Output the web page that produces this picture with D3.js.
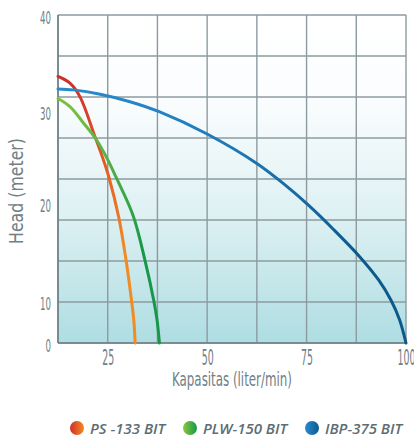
<!DOCTYPE html>
<html>
<head>
<meta charset="utf-8">
<script src="https://cdn.jsdelivr.net/npm/d3@7"></script>
<style>
  html, body { margin: 0; padding: 0; background: #ffffff; }
  svg { display: block; }
</style>
</head>
<body>
<svg id="chart" width="414" height="439"></svg>
<script>
// ---- data ----
const seriesNames = ["PS -133 BIT", "PLW-150 BIT", "IBP-375 BIT"];
const ps133 = [
  [12.5, 33.6], [15.5, 32.9], [18.0, 31.5], [21.8, 27.2], [23.9, 24.7],
  [25.3, 22.8], [27.8, 18.5], [29.6, 14.2], [31.0, 10.0], [31.55, 5.5], [31.9, 0]
];
const plw150 = [
  [12.5, 31.3], [15.5, 30.45], [18.9, 28.7], [22.2, 26.85], [24.9, 24.8],
  [27.1, 22.8], [31.4, 18.7], [34.4, 14.1], [36.6, 10.0], [37.4, 5.5], [38.0, 0]
];
const ibp375 = [
  [12.5, 32.3], [16.3, 32.2], [23.1, 31.75], [30.6, 30.97], [38.1, 29.9],
  [50, 27.5], [62.5, 24.3], [69.2, 22.1], [75.4, 19.8], [81.9, 17.25],
  [88.4, 14.5], [93.2, 12.1], [96.2, 10.1], [98.4, 5.5], [100, 0]
];
const xTicks = [25, 50, 75, 100];
const yTicks = [0, 10, 20, 30, 40];
const xTitle = "Kapasitas (liter/min)";
const yTitle = "Head (meter)";

// ---- layout ----
const svg = d3.select("#chart");
const pL = 58, pR = 406, pT = 15, pB = 343;

const x = d3.scaleLinear().domain([12.5, 100]).range([pL, pR]);
// the reference's value axis is not evenly spaced
const y = d3.scaleLinear().domain(yTicks).range([343, 301, 203, 111, 15]);
// grid rows are evenly spaced (8 rows)
const gridY = d3.scaleLinear().domain([0, 8]).range([pB, pT]);
const gridX = d3.scaleLinear().domain([0, 7]).range([pL, pR]);

const defs = svg.append("defs");
const bg = defs.append("linearGradient").attr("id", "bg")
  .attr("x1", 0).attr("y1", 0).attr("x2", 0).attr("y2", 1);
bg.append("stop").attr("offset", "0%").attr("stop-color", "#ffffff");
bg.append("stop").attr("offset", "25%").attr("stop-color", "#fbfdfe");
bg.append("stop").attr("offset", "60%").attr("stop-color", "#dff1f3");
bg.append("stop").attr("offset", "100%").attr("stop-color", "#aedde2");

const lineGrads = [
  ["g0", "#cf2f2a", "#f38a22"],
  ["g1", "#8cc63f", "#169848"],
  ["g2", "#2b8bd0", "#0c5a8c"]
];
lineGrads.forEach(([id, c1, c2]) => {
  const g = defs.append("linearGradient").attr("id", id)
    .attr("gradientUnits", "userSpaceOnUse")
    .attr("x1", 0).attr("y1", 80).attr("x2", 0).attr("y2", 250);
  g.append("stop").attr("offset", "0%").attr("stop-color", c1);
  g.append("stop").attr("offset", "100%").attr("stop-color", c2);
  const h = defs.append("linearGradient").attr("id", id + "h")
    .attr("x1", 0).attr("y1", 0).attr("x2", 1).attr("y2", 0);
  h.append("stop").attr("offset", "0%").attr("stop-color", c1);
  h.append("stop").attr("offset", "100%").attr("stop-color", c2);
});

svg.append("rect").attr("x", pL).attr("y", pT)
  .attr("width", pR - pL).attr("height", pB - pT)
  .attr("fill", "url(#bg)");

// grid
svg.append("g").selectAll("line").data(d3.range(0, 9)).join("line")
  .attr("x1", pL).attr("x2", pR)
  .attr("y1", d => gridY(d)).attr("y2", d => gridY(d))
  .attr("stroke", "#8d9ba0").attr("stroke-width", 1.4);
svg.append("g").selectAll("line").data(d3.range(0, 8)).join("line")
  .attr("y1", pT).attr("y2", pB)
  .attr("x1", d => gridX(d)).attr("x2", d => gridX(d))
  .attr("stroke", "#8d9ba0").attr("stroke-width", 1.4);
// axes lines
svg.append("line").attr("x1", pL).attr("x2", pL).attr("y1", pT).attr("y2", pB)
  .attr("stroke", "#6e8188").attr("stroke-width", 1.6);
svg.append("line").attr("x1", pL).attr("x2", pR).attr("y1", pB).attr("y2", pB)
  .attr("stroke", "#6e8188").attr("stroke-width", 1.6);

// curves
const line = d3.line().x(d => x(d[0])).y(d => y(d[1])).curve(d3.curveCatmullRom.alpha(0.5));
[ps133, plw150, ibp375].forEach((s, i) => {
  svg.append("path").datum(s).attr("d", line)
    .attr("fill", "none").attr("stroke", `url(#g${i})`)
    .attr("stroke-width", 3).attr("stroke-linecap", "round");
});

// axes labels (condensed)
const labelColor = "#708086";
const font = "'Liberation Sans Narrow', 'DejaVu Sans Condensed', sans-serif";

function widthOf(str, size) {
  const t = svg.append("text").text(str).style("font-family", font).style("font-size", size + "px");
  const w = t.node().getComputedTextLength();
  t.remove();
  return w;
}
const yScaleX = 11 / widthOf("40", 17);
const xScaleX = 12 / widthOf("25", 21);

const yAxis = d3.axisLeft(y).tickValues(yTicks).tickSize(0).tickPadding(0);
const yg = svg.append("g").attr("transform", `translate(${pL},0)`).call(yAxis);
yg.select(".domain").remove();
yg.selectAll("text")
  .attr("x", 0).attr("dy", null).attr("dominant-baseline", "central")
  .attr("fill", labelColor).style("font-family", font).style("font-size", "17px")
  .attr("transform", `translate(-7,2.5) scale(${yScaleX},1)`);

const xAxis = d3.axisBottom(x).tickValues(xTicks).tickSize(0).tickPadding(0);
const xg = svg.append("g").attr("transform", `translate(0,${pB})`).call(xAxis);
xg.select(".domain").remove();
xg.selectAll("text")
  .attr("y", 0).attr("dy", null).attr("dominant-baseline", "central")
  .attr("fill", labelColor).style("font-family", font).style("font-size", "21px")
  .attr("transform", `translate(0,15.5) scale(${xScaleX},1)`);

function fitText(sel, target) {
  const w = sel.node().getComputedTextLength();
  return target / w;
}
const xt = svg.append("text").text(xTitle)
  .attr("text-anchor", "middle").attr("dominant-baseline", "central")
  .attr("fill", labelColor).style("font-family", font).style("font-size", "19px");
const sx = fitText(xt, 120);
xt.attr("transform", `translate(232,380) scale(${sx},1)`);

const yt = svg.append("text").text(yTitle)
  .attr("text-anchor", "middle").attr("dominant-baseline", "central")
  .attr("fill", labelColor).style("font-family", font).style("font-size", "19px");
const sy = fitText(yt, 106);
yt.attr("transform", `translate(16,191) rotate(-90) scale(${sy},1)`);

// legend
const legendX = [77, 190, 312];
const lg = svg.append("g");
seriesNames.forEach((n, i) => {
  lg.append("circle").attr("cx", legendX[i]).attr("cy", 428).attr("r", 7)
    .attr("fill", `url(#g${i}h)`);
  lg.append("text").text(n).attr("x", legendX[i] + 13).attr("y", 428)
    .attr("dominant-baseline", "central")
    .attr("fill", "#5d6d74").style("font-family", "'Open Sans', sans-serif")
    .style("font-style", "italic").style("font-size", "15px").style("font-weight", 600);
});
</script>
</body>
</html>
